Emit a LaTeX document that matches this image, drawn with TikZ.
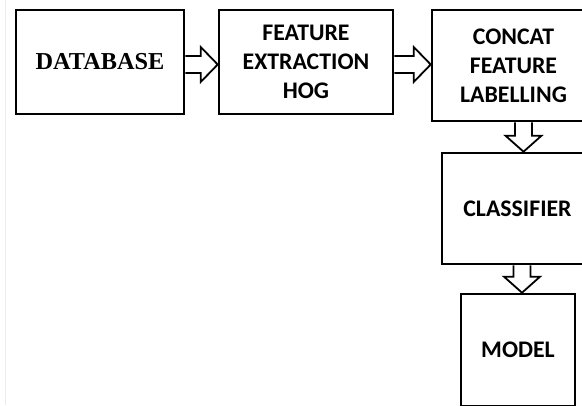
\documentclass[tikz,border=0pt]{standalone}
\usepackage{fontspec}
\setmainfont{Liberation Serif}
\newfontfamily\carl{Carlito}
\usetikzlibrary{calc}
\tikzset{
  box/.style={draw=black, line width=2.6pt, inner sep=0pt, align=center, fill=white},
  cbox/.style={box, font=\carl\bfseries\fontsize{23.8}{29}\selectfont},
  barrow/.style={draw=black, line width=1.8pt, line join=miter, fill=white},
}
\newcommand\BlkArrH[2]{%
  \draw[barrow] ($(#1)+(0,-8.5)$) -- ($(#2)+(-17,-8.5)$) -- ($(#2)+(-17,-17.5)$) -- (#2)
     -- ($(#2)+(-17,17.5)$) -- ($(#2)+(-17,8.5)$) -- ($(#1)+(0,8.5)$);}
\newcommand\BlkArrV[2]{%
  \draw[barrow] ($(#1)+(-8.5,0)$) -- ($(#2)+(-8.5,-16)$) -- ($(#2)+(-18,-16)$) -- (#2)
     -- ($(#2)+(18,-16)$) -- ($(#2)+(8.5,-16)$) -- ($(#1)+(8.5,0)$);}
\begin{document}
\begin{tikzpicture}[x=1pt, y=-1pt]
\useasboundingbox (0,0) rectangle (582,405);
\clip (0,0) rectangle (582,405);
\fill[white] (0,0) rectangle (582,405);
\draw[black!7, line width=0.8pt] (5,0) -- (5,405);

\node[box, minimum width=168pt, minimum height=104pt,
      font=\bfseries\fontsize{24.3}{28}\selectfont] (db) at (100,62) {DATABASE};
\node[cbox, minimum width=174pt, minimum height=104pt] (fe) at (306,62) {FEATURE\\EXTRACTION\\HOG};
\node[cbox, minimum width=163pt, minimum height=111pt] (cc) at (513.5,65.5) {CONCAT\\FEATURE\\LABELLING};
\node[cbox, minimum width=151pt, minimum height=111pt] (cl) at (517.5,208.5) {CLASSIFIER};
\node[cbox, minimum width=114pt, minimum height=112pt] (md) at (518,350) {MODEL};

\coordinate (a1s) at ($(db.east)+(0,2.5)$);
\coordinate (a1e) at (fe.west |- a1s);
\coordinate (a2s) at ($(fe.east)+(0,2.5)$);
\coordinate (a2e) at (cc.west |- a2s);
\coordinate (a3s) at ($(cc.south)+(10,0)$);
\coordinate (a3e) at (a3s |- cl.north);
\coordinate (a4s) at ($(cl.south)+(4.5,0)$);
\coordinate (a4e) at (a4s |- md.north);

\BlkArrH{a1s}{a1e}
\BlkArrH{a2s}{a2e}
\BlkArrV{a3s}{a3e}
\BlkArrV{a4s}{a4e}
\end{tikzpicture}
\end{document}
